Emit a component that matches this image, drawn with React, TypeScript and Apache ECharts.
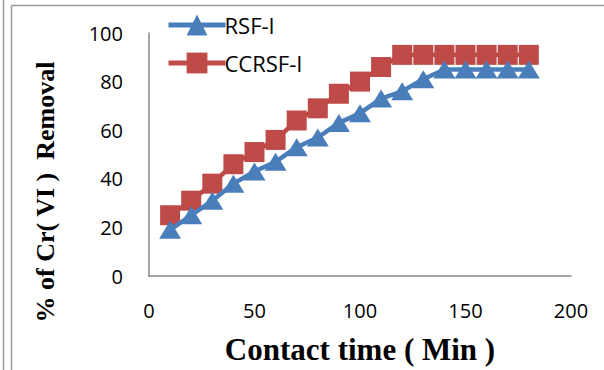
import React, { useEffect, useRef } from "react";
import * as echarts from "echarts";

const times = [10, 20, 30, 40, 50, 60, 70, 80, 90, 100, 110, 120, 130, 140, 150, 160, 170, 180];
const rsfI = [19, 25, 31, 38, 43, 47, 53, 57, 63, 67, 73, 76, 81, 85, 85, 85, 85, 85];
const ccrsfI = [25, 31, 38, 46, 51, 56, 64, 69, 75, 80, 86, 91, 91, 91, 91, 91, 91, 91];
const seriesNames = ["RSF-I", "CCRSF-I"];
const xTitle = "Contact time ( Min )";
const yTitle = "% of Cr( VI )  Removal";

export default function App() {
  const ref = useRef<HTMLDivElement>(null);
  useEffect(() => {
    if (!ref.current) return;
    const chart = echarts.init(ref.current, null, { renderer: "svg" });
    const tickFont = { fontFamily: "Open Sans", fontSize: 20, color: "#000" };
    chart.setOption({
      animation: false,
      backgroundColor: "#fff",
      grid: { left: 149, right: 33, top: 33, bottom: 90 },
      legend: {
        orient: "vertical",
        left: 161,
        top: 9,
        itemWidth: 57,
        itemHeight: 26,
        itemGap: 16,
        lineStyle: { width: 5 },
        textStyle: { fontFamily: "Open Sans", fontSize: 22, color: "#000", padding: [0, 0, 0, -6] },
        data: seriesNames,
      },
      xAxis: {
        type: "value",
        min: 0,
        max: 200,
        interval: 50,
        axisLine: { show: true, lineStyle: { color: "#888", width: 1.5 } },
        axisTick: { show: false },
        splitLine: { show: false },
        axisLabel: { ...tickFont, margin: 24 },
        name: xTitle,
        nameLocation: "middle",
        nameGap: 58,
        nameTextStyle: { fontFamily: "Liberation Serif", fontWeight: "bold", fontSize: 31, color: "#000" },
      },
      yAxis: {
        type: "value",
        min: 0,
        max: 100,
        interval: 20,
        axisLine: { show: true, lineStyle: { color: "#888", width: 1.5 } },
        axisTick: { show: false },
        splitLine: { show: false },
        axisLabel: { ...tickFont, margin: 26, padding: [4, 0, 0, 0] },
      },
      series: [
        {
          name: seriesNames[0],
          type: "line",
          data: times.map((t, i) => [t, rsfI[i]]),
          symbol: "triangle",
          symbolSize: [22, 18],
          lineStyle: { color: "#4a7ebb", width: 4.5 },
          itemStyle: { color: "#4a7ebb" },
          z: 3,
        },
        {
          name: seriesNames[1],
          type: "line",
          data: times.map((t, i) => [t, ccrsfI[i]]),
          symbol: "rect",
          symbolSize: 20,
          lineStyle: { color: "#be4b48", width: 4.5 },
          itemStyle: { color: "#be4b48" },
          z: 2,
        },
      ],
      graphic: [
        { type: "line", shape: { x1: 3.5, y1: 0, x2: 3.5, y2: 370 }, style: { stroke: "#999", lineWidth: 1.5 } },
        { type: "line", shape: { x1: 11.5, y1: 5.5, x2: 11.5, y2: 370 }, style: { stroke: "#999", lineWidth: 1.5 } },
        { type: "line", shape: { x1: 11.5, y1: 5.5, x2: 604, y2: 5.5 }, style: { stroke: "#999", lineWidth: 1.5 } },
        {
          type: "text",
          x: 45,
          y: 192,
          rotation: Math.PI / 2,
          style: {
            text: yTitle,
            font: "bold 26px 'Liberation Serif'",
            fill: "#000",
            textAlign: "center",
            textVerticalAlign: "middle",
          },
        },
      ],
    });
    return () => chart.dispose();
  }, []);
  return <div ref={ref} style={{ width: 604, height: 370, position: "absolute", left: 0, top: 0 }} />;
}
